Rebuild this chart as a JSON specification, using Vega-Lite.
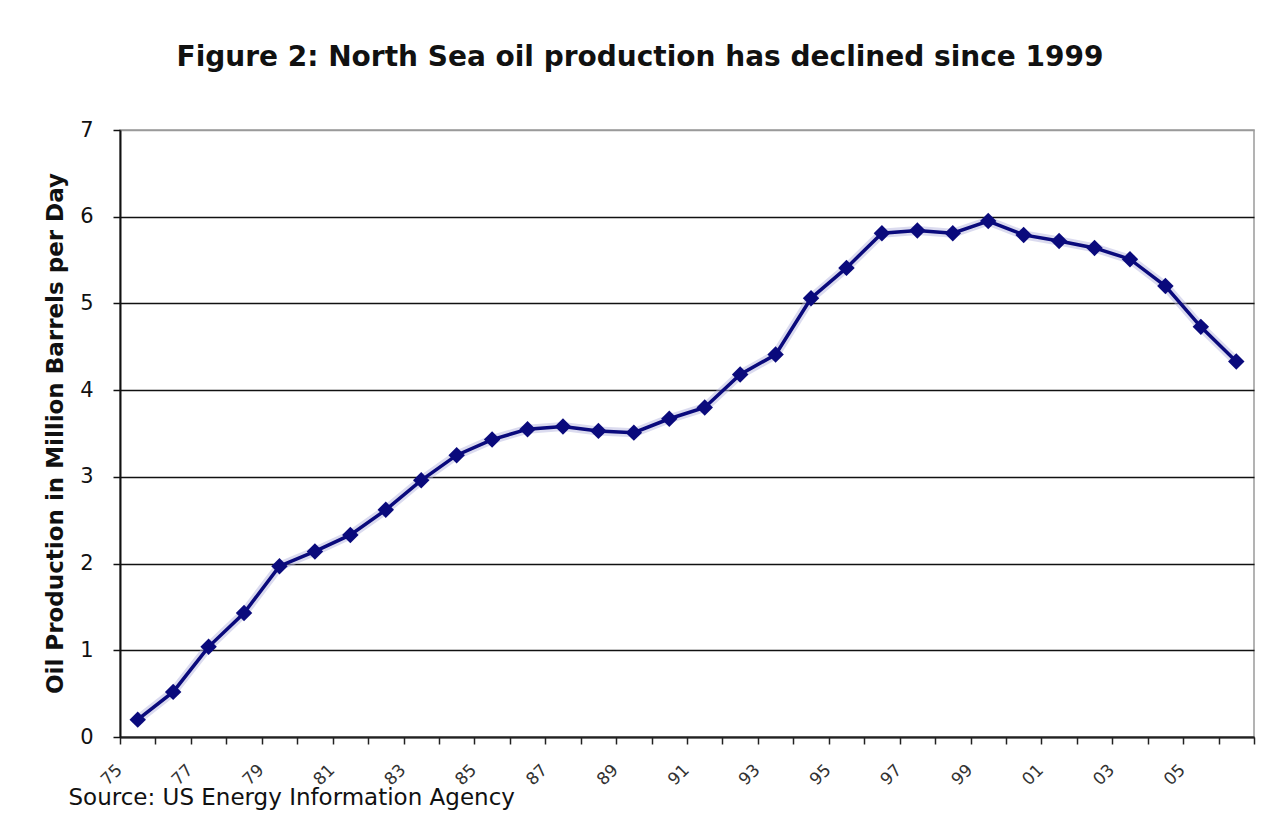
{
  "$schema": "https://vega.github.io/schema/vega-lite/v6.json",
  "width": 1134,
  "height": 607,
  "autosize": {"type": "none"},
  "padding": {"left": 120, "top": 130, "right": 15, "bottom": 77},
  "background": "white",
  "config": {
    "font": "DejaVu Sans",
    "view": {"stroke": "#9a9a9a", "strokeWidth": 1.5}
  },
  "title": {
    "text": "Figure 2: North Sea oil production has declined since 1999",
    "font": "DejaVu Sans",
    "fontSize": 28,
    "fontWeight": "bold",
    "color": "#111111",
    "anchor": "middle",
    "dx": -47,
    "baseline": "alphabetic",
    "offset": 25
  },
  "data": {
    "values": [
      {"year": 1975, "prod": 0.2},
      {"year": 1976, "prod": 0.52},
      {"year": 1977, "prod": 1.04},
      {"year": 1978, "prod": 1.43},
      {"year": 1979, "prod": 1.97},
      {"year": 1980, "prod": 2.14},
      {"year": 1981, "prod": 2.33},
      {"year": 1982, "prod": 2.62},
      {"year": 1983, "prod": 2.96},
      {"year": 1984, "prod": 3.25},
      {"year": 1985, "prod": 3.43},
      {"year": 1986, "prod": 3.55},
      {"year": 1987, "prod": 3.58},
      {"year": 1988, "prod": 3.53},
      {"year": 1989, "prod": 3.51},
      {"year": 1990, "prod": 3.67},
      {"year": 1991, "prod": 3.8},
      {"year": 1992, "prod": 4.18},
      {"year": 1993, "prod": 4.41},
      {"year": 1994, "prod": 5.06},
      {"year": 1995, "prod": 5.41},
      {"year": 1996, "prod": 5.81},
      {"year": 1997, "prod": 5.84},
      {"year": 1998, "prod": 5.81},
      {"year": 1999, "prod": 5.95},
      {"year": 2000, "prod": 5.79},
      {"year": 2001, "prod": 5.72},
      {"year": 2002, "prod": 5.64},
      {"year": 2003, "prod": 5.51},
      {"year": 2004, "prod": 5.2},
      {"year": 2005, "prod": 4.73},
      {"year": 2006, "prod": 4.33}
    ]
  },
  "encoding": {
    "x": {
      "field": "year",
      "type": "quantitative",
      "scale": {"domain": [1974.5, 2006.5], "nice": false, "zero": false},
      "axis": {
        "values": [1974.5, 1975.5, 1976.5, 1977.5, 1978.5, 1979.5, 1980.5, 1981.5, 1982.5, 1983.5, 1984.5, 1985.5, 1986.5, 1987.5, 1988.5, 1989.5, 1990.5, 1991.5, 1992.5, 1993.5, 1994.5, 1995.5, 1996.5, 1997.5, 1998.5, 1999.5, 2000.5, 2001.5, 2002.5, 2003.5, 2004.5, 2005.5, 2006.5],
        "labelExpr": "((floor(datum.value) + 1) % 2 == 1 && datum.value < 2006) ? substring(toString(floor(datum.value) + 1), 2) : ''",
        "labelAngle": -45,
        "labelAlign": "right",
        "labelBaseline": "middle",
        "labelFont": "DejaVu Sans",
        "labelFontSize": 17,
        "labelColor": "#333333",
        "labelPadding": 23,
        "labelOffset": -1,
        "labelOverlap": false,
        "labelFlush": false,
        "grid": false,
        "domainColor": "#222222",
        "domainWidth": 2,
        "tickColor": "#222222",
        "tickWidth": 1.5,
        "tickSize": 7,
        "title": "Source: US Energy Information Agency",
        "titleFont": "DejaVu Sans",
        "titleFontSize": 23,
        "titleFontWeight": "normal",
        "titleColor": "#111111",
        "titleAnchor": "start",
        "titleAlign": "left",
        "titleBaseline": "alphabetic",
        "titleX": -52,
        "titleY": 67
      }
    },
    "y": {
      "field": "prod",
      "type": "quantitative",
      "scale": {"domain": [0, 7], "nice": false},
      "axis": {
        "values": [0, 1, 2, 3, 4, 5, 6, 7],
        "labelFont": "DejaVu Sans",
        "labelFontSize": 21,
        "labelColor": "#111111",
        "labelPadding": 20,
        "grid": true,
        "gridColor": {"condition": {"test": "datum.value == 7", "value": "#9a9a9a"}, "value": "#111111"},
        "gridWidth": 1.5,
        "domainColor": "#111111",
        "domainWidth": 2,
        "tickColor": "#111111",
        "tickWidth": 1.5,
        "tickSize": 7,
        "title": "Oil Production in Million Barrels per Day",
        "titleFont": "DejaVu Sans",
        "titleFontSize": 23,
        "titleFontWeight": "bold",
        "titleColor": "#111111",
        "titleAngle": -90,
        "titleX": -65,
        "titleY": 303,
        "titleAlign": "center",
        "titleBaseline": "middle"
      }
    }
  },
  "layer": [
    {
      "mark": {"type": "line", "color": "#b8b8e0", "strokeWidth": 9, "opacity": 0.5}
    },
    {
      "mark": {"type": "line", "color": "#0a0a7c", "strokeWidth": 3.5,
        "point": {"shape": "diamond", "size": 270, "filled": true, "color": "#0a0a7c"}}
    }
  ]
}
